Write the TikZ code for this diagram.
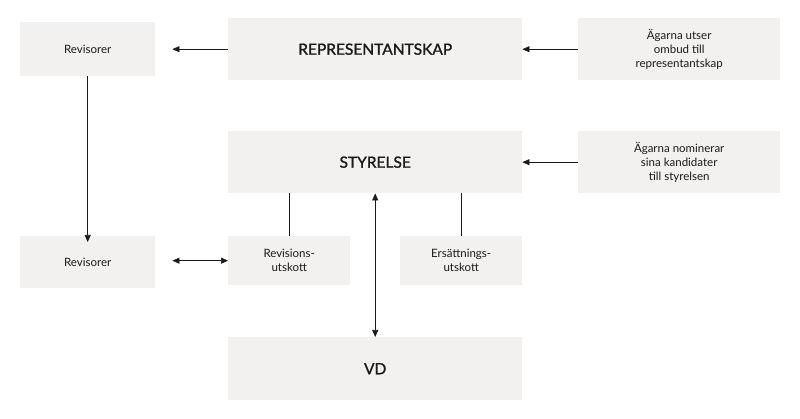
\documentclass[tikz,border=0pt]{standalone}
\usepackage{fontspec}
\setmainfont{Lato}
\newfontfamily\medfont{Lato}[BoldFont=Lato, BoldFeatures={FakeBold=1.3}]
\usetikzlibrary{arrows.meta}
\definecolor{boxfill}{HTML}{F2F1EF}
\definecolor{txt}{HTML}{1A1A1A}
\begin{document}
\begin{tikzpicture}[x=1pt,y=-1pt,
  box/.style={fill=boxfill,draw=none,text=txt,font=\fontsize{11.5}{14}\selectfont,align=center,anchor=north west,inner sep=0pt},
  big/.style={box,font=\fontsize{15.5}{17}\selectfont\medfont\bfseries},
  arr/.style={-{Triangle[length=7pt,width=6pt]},line width=0.6pt,draw=txt},
  darr/.style={{Triangle[length=7pt,width=6pt]}-{Triangle[length=7pt,width=6pt]},line width=0.6pt,draw=txt},
  ln/.style={line width=0.6pt,draw=txt}]
\useasboundingbox (0,0) rectangle (800,419);
\node[box,minimum width=135pt,minimum height=54pt] (rev1) at (20,22) {Revisorer};
\node[big,minimum width=294pt,minimum height=62pt] (rep) at (228,18) {REPRESENTANTSKAP};
\node[box,minimum width=202pt,minimum height=62pt] (ag1) at (578,18) {Ägarna utser\\ombud till\\representantskap};
\node[big,minimum width=294pt,minimum height=62pt] (sty) at (228,131) {STYRELSE};
\node[box,minimum width=202pt,minimum height=62pt] (ag2) at (578,131) {Ägarna nominerar\\sina kandidater\\till styrelsen};
\node[box,minimum width=135pt,minimum height=52pt] (rev2) at (20,236) {Revisorer};
\node[box,minimum width=122pt,minimum height=49pt] (ru) at (228,236) {Revisions-\\utskott};
\node[box,minimum width=122pt,minimum height=49pt] (eu) at (400,236) {Ersättnings-\\utskott};
\node[big,minimum width=294pt,minimum height=63pt] (vd) at (228,337) {VD};
\coordinate (a1) at ([xshift=17pt]rev1.east |- rep.west);
\draw[arr] (rep.west) -- (a1);
\draw[arr] (ag1.west) -- (rep.east);
\draw[arr] (ag2.west) -- (sty.east);
\draw[arr] (rev1.south) -- ([yshift=-6pt]rev2.north);
\coordinate (a2) at ([xshift=17pt]rev2.east |- ru.west);
\draw[darr] (a2) -- (ru.west);
\draw[darr] (sty.south) -- (vd.north);
\draw[ln] (sty.south -| ru.north) -- (ru.north);
\draw[ln] (sty.south -| eu.north) -- (eu.north);
\end{tikzpicture}
\end{document}
